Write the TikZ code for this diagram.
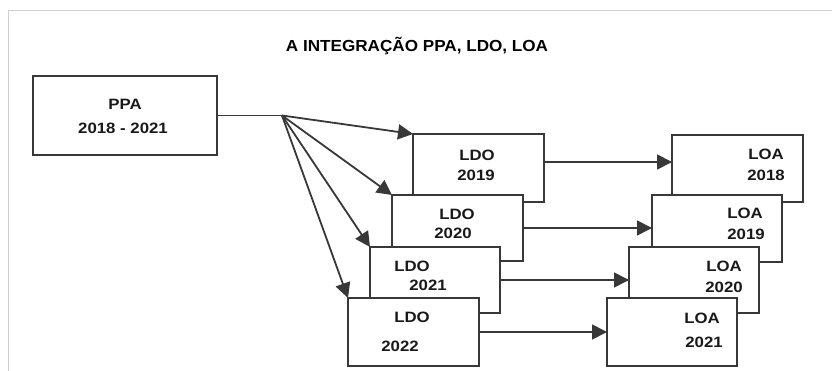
\documentclass[tikz,border=0pt]{standalone}
\usepackage{fontspec}
\usepackage{graphicx}
\setmainfont{Liberation Sans}
\usetikzlibrary{arrows.meta}
\definecolor{ln}{HTML}{383838}
\definecolor{fr}{HTML}{CFCFCF}
\newcommand\hsc[1]{\scalebox{1.12}[1]{#1}}
\begin{document}
\begin{tikzpicture}[x=1pt,y=-1pt,
  box/.style={draw=ln, line width=2pt, fill=white, inner sep=0pt, outer sep=0pt, anchor=north west},
  txt/.style={font=\bfseries\fontsize{15}{18}\selectfont, inner sep=0pt, text=black!90},
  conn/.style={draw=ln, line width=1.8pt},
  arr/.style={conn, -{Triangle[length=15pt,width=15pt]}}]
\useasboundingbox (0,0) rectangle (832,371);
\draw[fr, line width=1pt] (8,371) -- (8,11) -- (832,11);

\node[font=\bfseries\fontsize{16}{19}\selectfont, inner sep=0pt] (title) at (417,46) {\scalebox{1.07}[1]{A INTEGRAÇÃO PPA, LDO, LOA}};

% PPA
\node[box, minimum width=184pt, minimum height=79pt] (ppa) at (33,76) {};
\node[txt] (ppat1) at (125,104) {\hsc{PPA}};
\node[txt] (ppat2) at (123,128) {\hsc{2018 - 2021}};

% LDO stack
\node[box, minimum width=131pt, minimum height=68pt] (ldo19) at (413,134) {};
\node[txt] (ldo19t1) at (477,155) {\hsc{LDO}};
\node[txt] (ldo19t2) at (476,175) {\hsc{2019}};
\node[box, minimum width=131pt, minimum height=66pt] (ldo20) at (392,195) {};
\node[txt] (ldo20t1) at (457,214) {\hsc{LDO}};
\node[txt] (ldo20t2) at (453,233) {\hsc{2020}};
\node[box, minimum width=130pt, minimum height=66pt] (ldo21) at (370,247) {};
\node[txt] (ldo21t1) at (412,266) {\hsc{LDO}};
\node[txt] (ldo21t2) at (428,285) {\hsc{2021}};
\node[box, minimum width=131pt, minimum height=68pt] (ldo22) at (348,298) {};
\node[txt] (ldo22t1) at (412,317) {\hsc{LDO}};
\node[txt] (ldo22t2) at (400,346) {\hsc{2022}};

% LOA stack
\node[box, minimum width=131pt, minimum height=67pt] (loa18) at (672,135) {};
\node[txt] (loa18t1) at (766,154) {\hsc{LOA}};
\node[txt] (loa18t2) at (766,175) {\hsc{2018}};
\node[box, minimum width=130pt, minimum height=67pt] (loa19) at (652,195) {};
\node[txt] (loa19t1) at (745,213) {\hsc{LOA}};
\node[txt] (loa19t2) at (746,234) {\hsc{2019}};
\node[box, minimum width=130pt, minimum height=66pt] (loa20) at (629,247) {};
\node[txt] (loa20t1) at (724,266) {\hsc{LOA}};
\node[txt] (loa20t2) at (724,287) {\hsc{2020}};
\node[box, minimum width=130pt, minimum height=68pt] (loa21) at (607,298) {};
\node[txt] (loa21t1) at (702,318) {\hsc{LOA}};
\node[txt] (loa21t2) at (704,342) {\hsc{2021}};

% fan from PPA
\coordinate (fan) at (282,115.5);
\draw[conn] (ppa.east) -- (fan);
\draw[arr] (fan) -- (ldo19.north west);
\draw[arr] (fan) -- (ldo20.north west);
\draw[arr] (fan) -- (ldo21.north west);
\draw[arr] (fan) -- (ldo22.north west);

% LDO -> LOA
\path ([yshift=6pt]ldo19.east) coordinate (s1);
\draw[arr] (s1) -- (s1 -| loa18.west);
\draw[arr] (ldo20.east) -- (ldo20.east -| loa19.west);
\draw[arr] (ldo21.east) -- (ldo21.east -| loa20.west);
\draw[arr] (ldo22.east) -- (ldo22.east -| loa21.west);
\end{tikzpicture}
\end{document}
